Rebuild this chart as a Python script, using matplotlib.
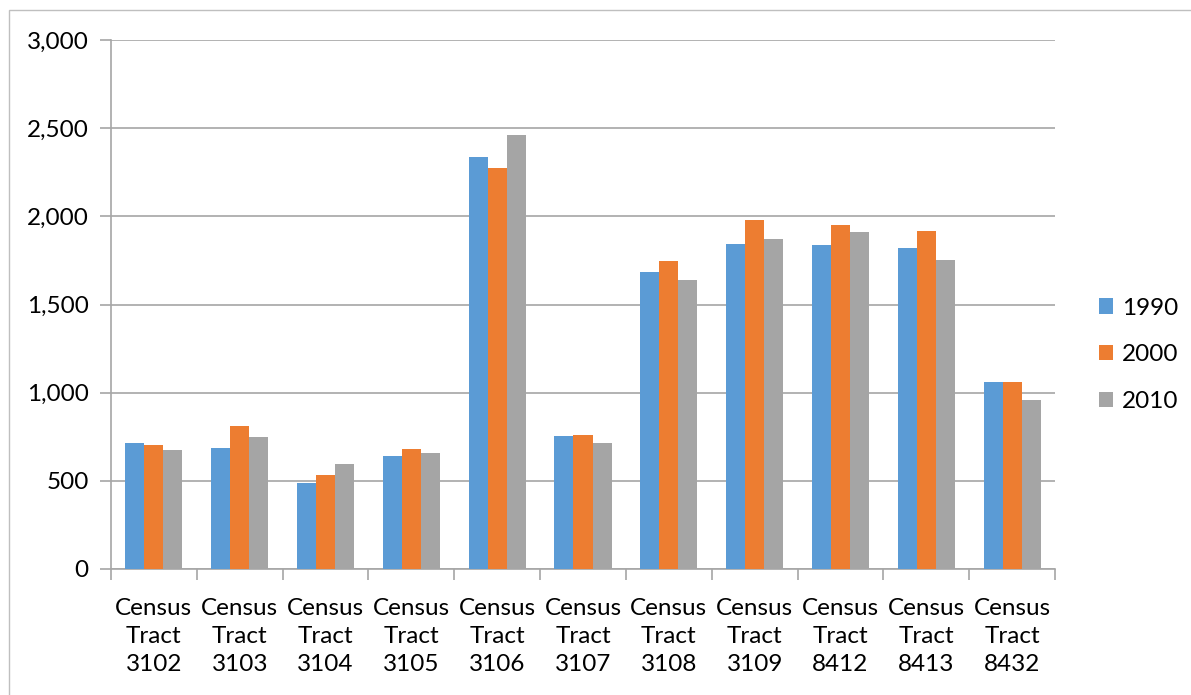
import numpy as np
import matplotlib
matplotlib.use('Agg')
import matplotlib.pyplot as plt
from matplotlib.patches import Rectangle
from matplotlib.ticker import FuncFormatter, FixedLocator

tracts = ['3102', '3103', '3104', '3105', '3106', '3107', '3108', '3109', '8412', '8413', '8432']
pop_1990 = [714, 685, 485, 641, 2335, 756, 1687, 1846, 1835, 1823, 1060]
pop_2000 = [704, 811, 533, 680, 2275, 761, 1745, 1980, 1950, 1918, 1058]
pop_2010 = [674, 750, 596, 657, 2464, 714, 1641, 1873, 1912, 1753, 958]
years = ['1990', '2000', '2010']
colors = ['#5B9BD5', '#ED7D31', '#A5A5A5']

plt.rcParams['font.family'] = ['Lato', 'DejaVu Sans']
grid_c = '#A6A6A6'
fs = 17.5

fig = plt.figure(figsize=(11.91, 6.95), dpi=100)
ax = fig.add_axes([0.0932, 0.1813, 0.7926, 0.7611])

# outer chart border
fig.patches.append(Rectangle((9 / 1191, -0.01), 1.02, 1 - 10 / 695 + 0.01,
                             transform=fig.transFigure, fill=False,
                             edgecolor='#BFBFBF', linewidth=1.0))

x = np.arange(len(tracts))
w = 0.222
for k, vals in enumerate([pop_1990, pop_2000, pop_2010]):
    ax.bar(x + (k - 1) * w, vals, width=w, color=colors[k], label=years[k], zorder=3)

ax.set_xlim(-0.5, len(tracts) - 0.5)
ax.set_ylim(0, 3000)
ax.set_yticks(np.arange(0, 3001, 500))
ax.yaxis.set_major_formatter(FuncFormatter(lambda v, p: '{:,.0f}'.format(v)))
ax.grid(axis='y', color=grid_c, linewidth=1.2, zorder=0)

ax.set_xticks(x)
ax.set_xticklabels(['Census\nTract\n' + t for t in tracts], linespacing=1.42)
ax.xaxis.set_minor_locator(FixedLocator(np.arange(-0.5, len(tracts), 1.0)))
ax.tick_params(axis='x', which='major', length=0, pad=21, labelsize=fs)
ax.tick_params(axis='x', which='minor', length=8, color=grid_c, width=1.2)
ax.tick_params(axis='y', length=8, color=grid_c, width=1.2, pad=8, labelsize=fs)

for s in ['top', 'right']:
    ax.spines[s].set_visible(False)
for s in ['left', 'bottom']:
    ax.spines[s].set_color(grid_c)
    ax.spines[s].set_linewidth(1.2)

leg = ax.legend(loc='center left', bbox_to_anchor=(1.023, 0.405), frameon=False,
                fontsize=fs, handlelength=0.6, handleheight=0.6,
                handletextpad=0.35, labelspacing=1.05)

plt.savefig('out.png', dpi=100)
